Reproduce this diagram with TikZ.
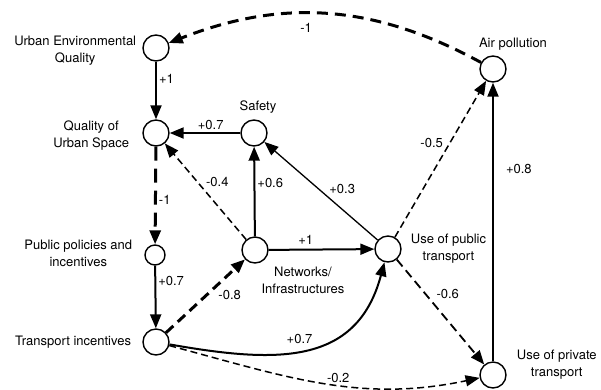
\documentclass[tikz,border=0pt]{standalone}
\usepackage{fontspec}
\setmainfont{TeX Gyre Heros}
\usetikzlibrary{arrows.meta}
\usetikzlibrary{positioning}

\begin{document}
\begin{tikzpicture}[x=1pt,y=1pt,>={Triangle[length=14pt,width=11pt]},
  var/.style={circle,draw,line width=1.4pt,minimum size=26pt,inner sep=0pt},
  lbl/.style={align=center,font=\fontsize{13}{17}\selectfont,inner sep=1pt},
  w/.style={font=\fontsize{13}{15}\selectfont,inner sep=2pt},
  pos link/.style={->,line width=2pt},
  thin link/.style={->,line width=1.3pt},
  neg link/.style={->,line width=3pt,dash pattern=on 11pt off 7pt},
  thin neg/.style={->,line width=1.5pt,dash pattern=on 7pt off 4pt}]
  \useasboundingbox (0,0) rectangle (601,-389);

  \node[var] (ueq)  at (156,-48)  {};
  \node[var] (qus)  at (156,-133) {};
  \node[var] (saf)  at (254,-133) {};
  \node[var,minimum size=20pt] (ppi) at (155,-255) {};
  \node[var] (ti)   at (156,-342) {};
  \node[var] (net)  at (255,-250) {};
  \node[var] (upt)  at (388,-249) {};
  \node[var] (air)  at (493,-69)  {};
  \node[var] (priv) at (493,-375) {};

  \node[lbl] (ueqt)  [left=5pt of ueq,yshift=-3pt] {Urban Environmental\\Quality};
  \node[lbl] (qust)  [left=12pt of qus,yshift=-3pt] {Quality of\\Urban Space};
  \node[lbl] (saft)  [above=5pt of saf,xshift=4pt] {Safety};
  \node[lbl] (ppit)  [left=11pt of ppi,yshift=2pt] {Public policies and\\incentives};
  \node[lbl] (tit)   [left=10pt of ti] {Transport incentives};
  \node[lbl] (nett)  [below=2pt of net,xshift=48pt] {Networks/\\Infrastructures};
  \node[lbl] (uptt)  [right=8pt of upt] {Use of public\\transport};
  \node[lbl] (airt)  [above=4pt of air,xshift=20pt] {Air pollution};
  \node[lbl] (privt) [right=9pt of priv,yshift=10pt] {Use of private\\transport};

  \path (air) edge [neg link,bend right=25] node[w,pos=.57,below=6pt] {-1} (ueq)
        (ueq) edge [pos link] node[w,pos=.3,right] {+1} (qus)
        (saf) edge [pos link] node[w,pos=.42,above] {+0.7} (qus)
        (net) edge [thin neg] node[w,pos=.6,right=6pt] {-0.4} (qus)
        (net) edge [pos link] node[w,pos=.6,right] {+0.6} (saf)
        (upt) edge [thin link] node[w,pos=.45,anchor=south west] {+0.3} (saf)
        (qus) edge [neg link,dash pattern=on 14pt off 8pt] node[w,pos=.55,right] {-1} (ppi)
        (ppi) edge [pos link] node[w,pos=.25,right] {+0.7} (ti)
        (ti)  edge [neg link,dash pattern=on 10pt off 6pt] node[w,pos=.62,anchor=north west] {-0.8} (net)
        (net) edge [pos link] node[w,pos=.35,above=2pt] {+1} (upt)
        (ti)  edge [pos link,out=-10,in=-105,looseness=1.2] node[w,pos=.47,above=4pt] {+0.7} (upt)
        (ti)  edge [thin neg,out=-15,in=192] node[w,pos=.55,above] {-0.2} (priv)
        (upt) edge [thin neg,line width=1.8pt,dash pattern=on 9pt off 5pt] node[w,pos=.33,right=8pt] {-0.6} (priv)
        (upt) edge [thin neg] node[w,pos=.6,left=4pt] {-0.5} (air)
        (priv) edge [pos link] node[w,pos=.69,right=10pt] {+0.8} (air);
\end{tikzpicture}
\end{document}
